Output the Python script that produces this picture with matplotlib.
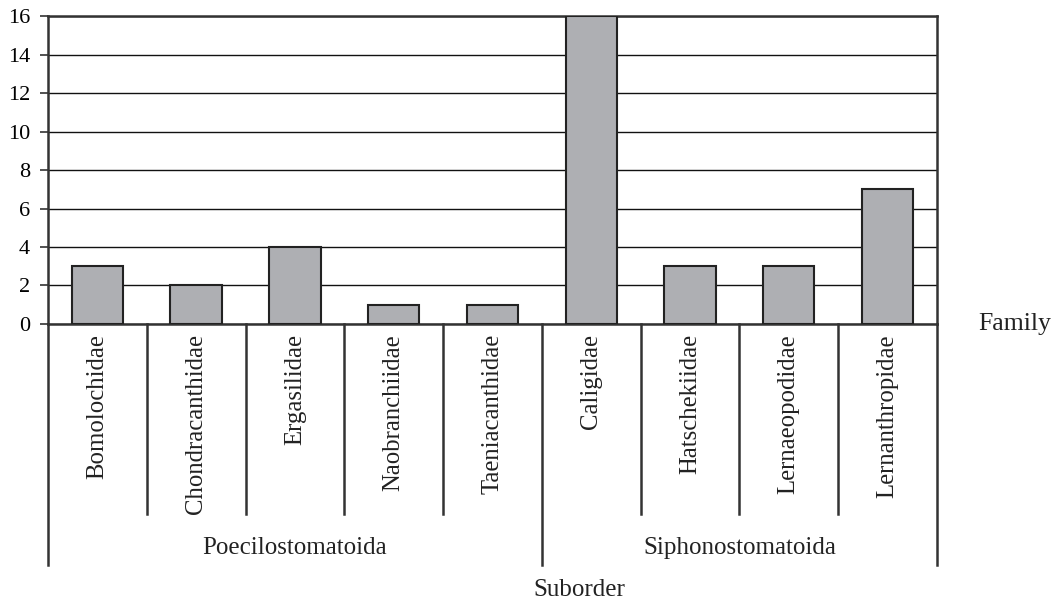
import matplotlib
matplotlib.use('Agg')
import matplotlib.pyplot as plt
from matplotlib.lines import Line2D

families = ['Bomolochidae', 'Chondracanthidae', 'Ergasilidae', 'Naobranchiidae',
            'Taeniacanthidae', 'Caligidae', 'Hatschekiidae', 'Lernaeopodidae',
            'Lernanthropidae']
counts = [3, 2, 4, 1, 1, 16, 3, 3, 7]
suborders = ['Poecilostomatoida', 'Siphonostomatoida']
suborder_sizes = [5, 4]
yticks = [0, 2, 4, 6, 8, 10, 12, 14, 16]

plt.rcParams['font.family'] = ['Liberation Serif', 'DejaVu Serif']

fig = plt.figure(figsize=(10.61, 6.02), dpi=100)
ax = fig.add_axes([0.0452, 0.4618, 0.8379, 0.5116])

x = list(range(len(families)))
ax.bar(x, counts, width=0.52, color='#aeafb3', edgecolor='#222222',
       linewidth=1.5, zorder=3)

ax.set_xlim(-0.5, len(families) - 0.5)
ax.set_ylim(0, 16)
ax.set_yticks(yticks)
ax.set_yticklabels([str(v) for v in yticks], fontsize=16)
ax.yaxis.grid(True, color='#111111', linewidth=1.0, zorder=0)
ax.set_xticks([])
ax.tick_params(axis='y', length=6, width=1.2, color='#333333', pad=7)
for s in ax.spines.values():
    s.set_color('#333333')
    s.set_linewidth(1.8)

# family labels
xt = ax.get_xaxis_transform()
for i, name in enumerate(families):
    ax.text(i, -0.033, name, rotation=90, ha='center', va='top',
            fontsize=17.8, transform=xt, color='#222222')

# dividers
short_y, long_y = -0.617, -0.782
boundaries = [0]
for n in suborder_sizes:
    boundaries.append(boundaries[-1] + n)
for b in range(len(families) + 1):
    bottom = long_y if b in boundaries else short_y
    ax.add_line(Line2D([b - 0.5, b - 0.5], [0, bottom], transform=xt,
                       color='#333333', linewidth=1.8, clip_on=False))

# suborder labels
for k, name in enumerate(suborders):
    center = (boundaries[k] + boundaries[k + 1]) / 2 - 0.5
    ax.text(center, -0.727, name, ha='center', va='center', fontsize=18,
            transform=xt, color='#222222')

ax.text(0.598, -0.864, 'Suborder', ha='center', va='center', fontsize=18,
        transform=ax.transAxes, color='#222222')
ax.text(1.088, 0.0, 'Family', ha='center', va='center', fontsize=18.5,
        transform=ax.transAxes, color='#222222')

fig.savefig('out.png', dpi=100)
